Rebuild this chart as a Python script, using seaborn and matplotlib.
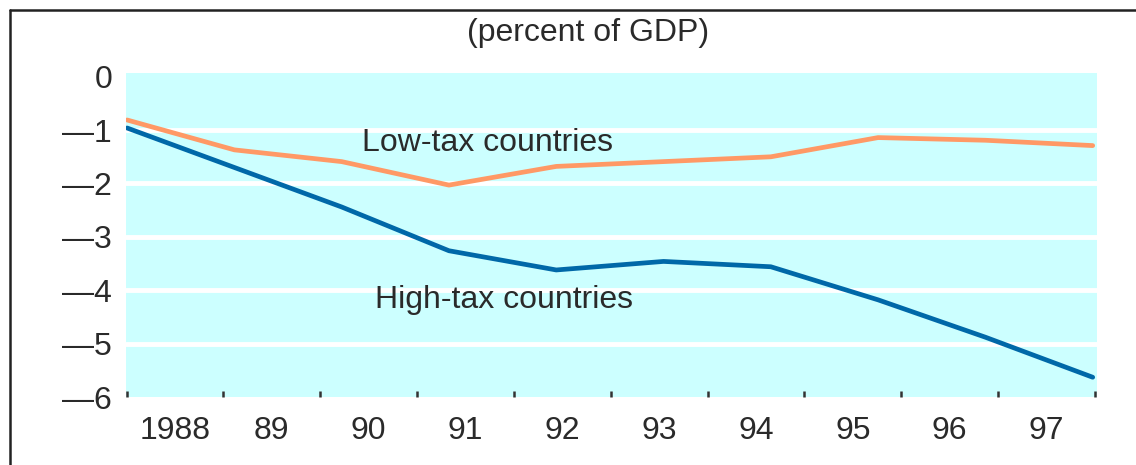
import numpy as np
import pandas as pd
import seaborn as sns
import matplotlib.pyplot as plt
from matplotlib.lines import Line2D

# data (percent of GDP)
years = ['1988', '89', '90', '91', '92', '93', '94', '95', '96', '97']
low_tax = [-0.81, -1.37, -1.59, -2.03, -1.68, -1.59, -1.50, -1.14, -1.19, -1.29]
high_tax = [-0.96, -1.70, -2.44, -3.26, -3.62, -3.46, -3.56, -4.18, -4.88, -5.63]
y_ticks = [0, -1, -2, -3, -4, -5, -6]
y_labels = ['0', '—1', '—2', '—3', '—4', '—5', '—6']

df = pd.DataFrame({'idx': list(range(len(years))) * 2,
                   'value': low_tax + high_tax,
                   'group': ['Low-tax countries'] * len(years) + ['High-tax countries'] * len(years)})

sns.set_theme(style='white')
plt.rcParams['font.family'] = ['Liberation Sans', 'DejaVu Sans']
txt = '#2a2a2a'
fs = 23

fig = plt.figure(figsize=(11.36, 4.65), dpi=100)
ax = fig.add_axes([126 / 1136, 1 - 397 / 465, (1097 - 126) / 1136, (397 - 73) / 465])
ax.set_facecolor('#CCFFFF')

sns.lineplot(data=df, x='idx', y='value', hue='group',
             palette={'Low-tax countries': '#FF9966', 'High-tax countries': '#0068A8'},
             lw=3.4, legend=False, ax=ax, zorder=3)

x0, x1 = -0.01, 9.04
ax.set_xlim(x0, x1)
ax.set_ylim(-6, 0.07)

# horizontal white grid lines
for v in y_ticks[1:-1]:
    ax.axhline(v, color='white', lw=3.5, zorder=1)

edges = np.linspace(x0 + 0.005, x1 - 0.02, len(years) + 1)
mids = (edges[:-1] + edges[1:]) / 2
ax.set_xticks(edges)
ax.set_xticklabels([''] * len(edges))
ax.set_xticks(mids, minor=True)
ax.set_xticklabels(years, minor=True)
ax.tick_params(axis='x', which='major', direction='in', length=4, width=1.8, color='#333333', bottom=True)
ax.tick_params(axis='x', which='minor', length=0, pad=14, labelsize=fs, labelcolor=txt)

ax.set_yticks(y_ticks)
ax.set_yticklabels(y_labels)
ax.tick_params(axis='y', length=0, pad=10, labelsize=fs, labelcolor=txt)

ax.set_xlabel('')
ax.set_ylabel('')
for s in ax.spines.values():
    s.set_visible(False)

ax.text(2.19, -1.24, 'Low-tax countries', fontsize=fs, color=txt, va='center', ha='left', zorder=4)
ax.text(2.31, -4.18, 'High-tax countries', fontsize=fs, color=txt, va='center', ha='left', zorder=4)

fig.text(588 / 1136, 1 - 33 / 465, '(percent of GDP)', fontsize=fs, color=txt, ha='center', va='center')

# frame on the top and left of the picture
fig.add_artist(Line2D([9.5 / 1136, 9.5 / 1136], [0, 1 - 10 / 465], color='#222222', lw=1.8))
fig.add_artist(Line2D([9.5 / 1136, 1], [1 - 10 / 465, 1 - 10 / 465], color='#222222', lw=1.8))

fig.savefig('out.png', dpi=100)
